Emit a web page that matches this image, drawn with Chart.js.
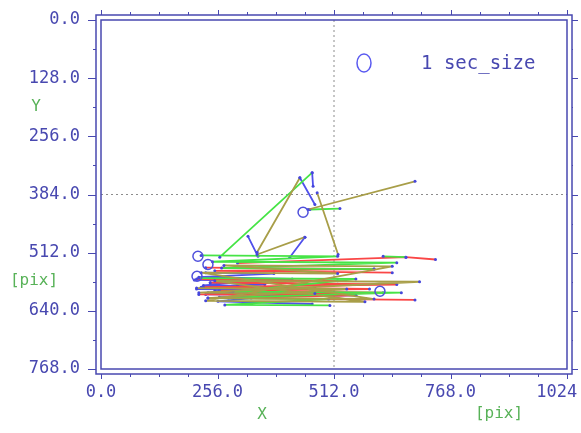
<!DOCTYPE html>
<html>
<head>
<meta charset="utf-8">
<script src="https://cdn.jsdelivr.net/npm/chart.js@4.4.0/dist/chart.umd.min.js"></script>
<style>
  html, body { margin: 0; padding: 0; background: #fff; overflow: hidden; }
  #wrap { width: 610px; height: 433px; }
</style>
</head>
<body>
<div id="wrap"><canvas id="chart" width="610" height="433"></canvas></div>
<script>
// Axis ticks (pixels of a 1024x768 screen, y grows downward)
const xTicks = [0, 256, 512, 768, 1024];
const yTicks = [0, 128, 256, 384, 512, 640, 768];
const minorStep = 64;

// Centre cross
const crossVX = [512, 512], crossVY = [0, 768];
const crossHX = [0, 1024], crossHY = [384, 384];

// Scan paths, one per colour (null breaks the line)
const redX = [230, 600, 250, 640, null, 300, 670, 735, null, 210, 520, 240, 650, 225, 590, 260, 620, 215, 560, 280, 690];
const redY = [545, 548, 552, 556, null, 535, 522, 527, null, 570, 574, 578, 582, 588, 592, 596, 600, 604, 606, 612, 616];

const greenX = [261, 464, null, 459, 525, null, 220, 520, 245, 650, 265, 600, null, 620, 670, null, 215, 560, 290, 660, 235, 500, 272, 503];
const greenY = [522, 336, null, 417, 415, null, 518, 520, 532, 534, 546, 548, null, 520, 522, null, 568, 570, 598, 600, 612, 614, 627, 628];

const blueX = [464, 466, null, 437, 470, null, 323, 345, null, 448, 415, null, 230, 380, 215, 420, 240, 360, 220, 470, 250, 400, 230, 560, 260, 330, 257, 464, null, 205, 350, 225, 300, 210, 390, 235, 320];
const blueY = [336, 366, null, 347, 406, null, 476, 520, null, 478, 522, null, 556, 558, 566, 570, 578, 582, 588, 590, 596, 598, 604, 606, 610, 612, 619, 625, null, 572, 574, 584, 585, 592, 594, 600, 602];

const oliveX = [343, 437, null, 475, 521, null, 455, 690, null, 343, 448, null, 210, 540, 235, 600, 220, 520, 270, 640, 230, 580, 250, 700, 215, 470];
const oliveY = [511, 347, null, 380, 516, null, 417, 355, null, 516, 478, null, 590, 592, 612, 614, 556, 558, 540, 542, 618, 620, 574, 576, 600, 602];

// Fixation circles
const fixX = [444, 213, 211, 235, 613];
const fixY = [423, 520, 564, 538, 597];

const AXIS_BLUE = 'rgb(72,72,176)';
const TITLE_GREEN = 'rgb(88,178,88)';
const MARK_BLUE = 'rgb(70,70,220)';
const MONO = "'DejaVu Sans Mono', monospace";

function toPoints(xs, ys) {
    return xs.map((x, i) => ({ x: x, y: ys[i] }));
}

function pathSet(xs, ys, color) {
    return {
        data: toPoints(xs, ys),
        showLine: true,
        borderColor: color,
        backgroundColor: MARK_BLUE,
        borderWidth: 1.8,
        pointRadius: 1.5,
        pointBorderWidth: 0,
        order: 1
    };
}

// keep the plot box exactly where the layout padding puts it
function noEdgePadding(scale) {
    scale.paddingTop = 0;
    scale.paddingBottom = 0;
    scale.paddingLeft = 0;
    scale.paddingRight = 0;
}

// Double frame, tick marks, axis titles and the size legend
const framePlugin = {
    id: 'frame',
    afterDraw(chart) {
        const { ctx, chartArea: a, scales: { x, y } } = chart;
        const g = 5;
        ctx.save();
        ctx.strokeStyle = AXIS_BLUE;
        ctx.lineWidth = 1.5;
        ctx.strokeRect(a.left, a.top, a.right - a.left, a.bottom - a.top);
        ctx.strokeRect(a.left - g, a.top - g, a.right - a.left + 2 * g, a.bottom - a.top + 2 * g);

        ctx.lineWidth = 1;
        ctx.beginPath();
        for (let v = x.min; v <= x.max; v += minorStep) {
            const px = Math.round(x.getPixelForValue(v)) + 0.5;
            const len = xTicks.includes(v) ? 5 : 3;
            ctx.moveTo(px, a.bottom + g); ctx.lineTo(px, a.bottom + g + len);
            ctx.moveTo(px, a.top - g); ctx.lineTo(px, a.top - g - len);
        }
        for (let v = y.min; v <= y.max; v += minorStep) {
            const py = Math.round(y.getPixelForValue(v)) + 0.5;
            const len = yTicks.includes(v) ? 8 : 3;
            ctx.moveTo(a.left - g, py); ctx.lineTo(a.left - g - len, py);
            ctx.moveTo(a.right + g, py); ctx.lineTo(a.right + g + len - 2, py);
        }
        ctx.stroke();

        ctx.fillStyle = TITLE_GREEN;
        ctx.font = '16px ' + MONO;
        ctx.textAlign = 'center';
        ctx.textBaseline = 'middle';
        ctx.fillText('Y', a.left - 65, a.top + 87);
        ctx.fillText('[pix]', a.left - 67, a.top + 261);
        ctx.fillText('X', a.left + 161, a.bottom + 46);
        ctx.fillText('[pix]', a.left + 398, a.bottom + 45);

        ctx.strokeStyle = 'rgb(90,90,240)';
        ctx.lineWidth = 1.5;
        ctx.beginPath();
        ctx.ellipse(a.left + 263, a.top + 43, 7, 9, 0, 0, Math.PI * 2);
        ctx.stroke();
        ctx.fillStyle = AXIS_BLUE;
        ctx.font = '19px ' + MONO;
        ctx.textAlign = 'left';
        ctx.fillText('1 sec_size', a.left + 320, a.top + 44);
        ctx.restore();
    }
};

new Chart(document.getElementById('chart'), {
    type: 'scatter',
    data: {
        datasets: [
            {
                data: toPoints(crossVX, crossVY), showLine: true, borderColor: 'rgb(140,140,140)',
                borderWidth: 1, borderDash: [2, 3], pointRadius: 0, order: 10
            },
            {
                data: toPoints(crossHX, crossHY), showLine: true, borderColor: 'rgb(140,140,140)',
                borderWidth: 1, borderDash: [2, 3], pointRadius: 0, order: 10
            },
            pathSet(oliveX, oliveY, 'rgb(168,158,72)'),
            pathSet(greenX, greenY, 'rgb(70,228,70)'),
            pathSet(redX, redY, 'rgb(250,70,70)'),
            pathSet(blueX, blueY, 'rgb(80,80,235)'),
            {
                data: toPoints(fixX, fixY), showLine: false, pointRadius: 5,
                borderColor: 'rgb(80,80,220)', backgroundColor: 'rgba(0,0,0,0)',
                pointBorderWidth: 1.5, order: 0
            }
        ]
    },
    options: {
        responsive: false,
        animation: false,
        events: [],
        layout: { padding: { top: 20, right: 43, left: 0, bottom: 0 } },
        plugins: {
            legend: { display: false },
            tooltip: { enabled: false }
        },
        scales: {
            x: {
                type: 'linear',
                min: 0,
                max: 1024,
                afterBuildTicks: scale => { scale.ticks = xTicks.map(v => ({ value: v })); },
                afterFit: scale => { scale.height = 64; noEdgePadding(scale); },
                grid: { display: false, drawTicks: false },
                border: { display: false },
                ticks: {
                    color: AXIS_BLUE,
                    font: { family: MONO, size: 17 },
                    padding: 13,
                    autoSkip: false,
                    maxRotation: 0,
                    callback: v => v.toFixed(1)
                }
            },
            y: {
                type: 'linear',
                reverse: true,
                min: 0,
                max: 768,
                afterBuildTicks: scale => { scale.ticks = yTicks.map(v => ({ value: v })); },
                afterFit: scale => { scale.width = 101; noEdgePadding(scale); },
                grid: { display: false, drawTicks: false },
                border: { display: false },
                ticks: {
                    color: AXIS_BLUE,
                    font: { family: MONO, size: 17 },
                    padding: 21,
                    autoSkip: false,
                    callback: v => v.toFixed(1)
                }
            }
        }
    },
    plugins: [framePlugin]
});
</script>
</body>
</html>
